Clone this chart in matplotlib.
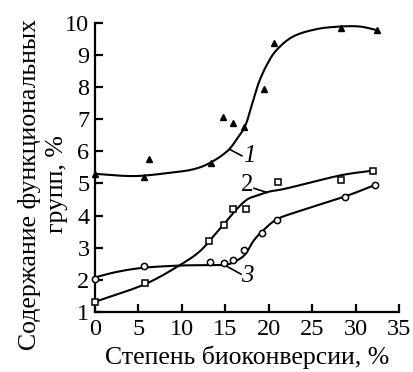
import numpy as np
import matplotlib
matplotlib.use("Agg")
import matplotlib.pyplot as plt

plt.rcParams['font.family'] = ['Liberation Serif', 'DejaVu Serif']

# measured points (степень биоконверсии, %; содержание, %)
x1 = [0, 5.6, 6.25, 13.3, 14.7, 15.9, 17.1, 19.4, 20.6, 28.3, 32.4]
y1 = [5.3, 5.2, 5.75, 5.63, 7.07, 6.89, 6.76, 7.94, 9.36, 9.82, 9.77]
x2 = [0, 5.76, 13.1, 14.8, 15.9, 17.4, 21.1, 28.3, 32.0]
y2 = [1.32, 1.9, 3.2, 3.72, 4.2, 4.22, 5.05, 5.12, 5.4]
x3 = [0, 5.6, 13.2, 14.9, 15.9, 17.2, 19.2, 21.0, 28.8, 32.2]
y3 = [2.02, 2.42, 2.55, 2.52, 2.62, 2.92, 3.47, 3.87, 4.57, 4.95]

# fitted curves
cx1 = [0, 4.4, 8.25, 11.3, 13.3, 15.2, 16.3, 17.3, 18.0, 18.8, 19.8, 20.9, 22.8, 25.5, 28.2, 30.5, 32.4]
cy1 = [5.3, 5.23, 5.32, 5.44, 5.65, 6.0, 6.37, 6.8, 7.4, 8.1, 8.7, 9.15, 9.57, 9.8, 9.88, 9.88, 9.77]
cx2 = [0, 5.76, 10.0, 12.1, 13.6, 15.2, 16.3, 17.5, 18.6, 20.1, 22.1, 28.2, 32.0]
cy2 = [1.32, 1.87, 2.5, 2.9, 3.35, 3.85, 4.2, 4.5, 4.62, 4.75, 4.85, 5.25, 5.4]
cx3 = [0, 2.5, 5.6, 10.0, 13.6, 15.2, 16.3, 17.3, 18.2, 19.2, 20.9, 23.6, 28.8, 32.2]
cy3 = [2.08, 2.25, 2.38, 2.45, 2.46, 2.48, 2.6, 2.8, 3.2, 3.5, 3.88, 4.15, 4.6, 4.95]

# curve numbers: label position, leader start, leader end
labels = ['1', '2', '3']
label_xy = [(17.8, 5.85), (17.5, 4.95), (17.5, 2.12)]
leader_from = [(15.5, 6.06), (18.3, 4.85), (15.2, 2.42)]
leader_to = [(16.9, 5.86), (19.8, 4.72), (16.8, 2.18)]


def smooth(xs, ys):
    # Catmull-Rom through the read-off curve points
    xs = np.asarray(xs, float)
    ys = np.asarray(ys, float)
    px = np.concatenate([[2 * xs[0] - xs[1]], xs, [2 * xs[-1] - xs[-2]]])
    py = np.concatenate([[2 * ys[0] - ys[1]], ys, [2 * ys[-1] - ys[-2]]])
    out_x, out_y = [], []
    t = np.linspace(0, 1, 30, endpoint=False)
    for i in range(1, len(px) - 2):
        for p, out in ((px, out_x), (py, out_y)):
            p0, p1, p2, p3 = p[i - 1], p[i], p[i + 1], p[i + 2]
            out.extend(0.5 * (2 * p1 + (-p0 + p2) * t
                              + (2 * p0 - 5 * p1 + 4 * p2 - p3) * t**2
                              + (-p0 + 3 * p1 - 3 * p2 + p3) * t**3))
    out_x.append(xs[-1])
    out_y.append(ys[-1])
    return np.array(out_x), np.array(out_y)


fig = plt.figure(figsize=(4.14, 3.72), dpi=100)
ax = fig.add_axes([0.2295, 0.161, 0.7345, 0.778])

for cx, cy in [(cx1, cy1), (cx2, cy2), (cx3, cy3)]:
    xx, yy = smooth(cx, cy)
    ax.plot(xx, yy, color='black', lw=1.5, zorder=2)

ax.plot(x1, y1, '^', color='black', ms=5, zorder=3, clip_on=False)
ax.plot(x2, y2, 's', mfc='white', mec='black', mew=1.1, ms=4, zorder=3, clip_on=False)
ax.plot(x3, y3, 'o', mfc='white', mec='black', mew=1.1, ms=4.5, zorder=3, clip_on=False)

for lab, (lx, ly), p0, p1 in zip(labels, label_xy, leader_from, leader_to):
    ax.plot([p0[0], p1[0]], [p0[1], p1[1]], color='black', lw=1.2)
    ax.text(lx, ly, lab, fontsize=18, style='italic' if lab != '2' else 'normal',
            ha='center', va='center')

ax.set_xlim(0, 35)
ax.set_ylim(1, 10)
ax.set_xticks(range(0, 36, 5))
ax.set_yticks(range(1, 11))
ax.spines['top'].set_visible(False)
ax.spines['right'].set_visible(False)
for s in ('left', 'bottom'):
    ax.spines[s].set_linewidth(1.6)
ax.tick_params(direction='in', length=6, width=1.6, labelsize=17.5)
ax.tick_params(axis='x', pad=5)
ax.tick_params(axis='y', pad=4)

ax.set_xlabel('Степень биоконверсии, %', fontsize=18.5, labelpad=4)
fig.text(0.104, 0.505, 'Содержание функциональных\nгрупп, %', rotation=90,
         fontsize=18.5, ha='center', va='center', linespacing=1.3)

fig.savefig('out.png', dpi=100)
